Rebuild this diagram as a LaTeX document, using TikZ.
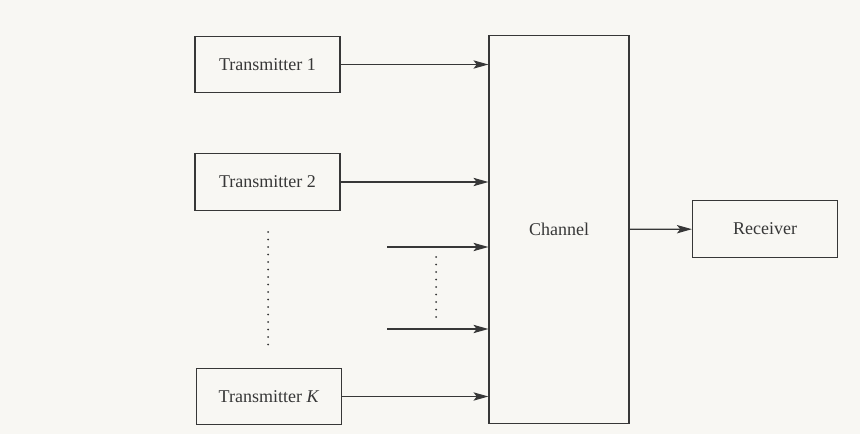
\documentclass[tikz,border=0pt]{standalone}
\usepackage{fontspec}
\setmainfont{Liberation Serif}
\usetikzlibrary{arrows,arrows.meta}
\definecolor{paper}{RGB}{248,247,243}
\definecolor{ink}{RGB}{55,55,55}
\begin{document}
\begin{tikzpicture}[
x=0.6pt, y=-0.6pt,
box/.style={draw=ink, line width=0.7pt, minimum width=87pt, minimum height=34pt, inner sep=0pt, font=\fontsize{10.8}{13}\selectfont, text=ink},
chan/.style={draw=ink, line width=0.7pt, minimum width=84pt, minimum height=233pt, inner sep=0pt, font=\fontsize{10.8}{13}\selectfont, text=ink},
arrow/.style={-{Stealth[length=9pt,width=5pt,inset=2pt]}, draw=ink, line width=0.7pt},
dots/.style={draw=ink, line width=1.2pt, line cap=round, dash pattern=on 0pt off 4.5pt} ]

\fill[paper] (0,0) rectangle (860,434);
\useasboundingbox (0,0) rectangle (860,434);

\node[box] (T1) at (267.5,64.5) {Transmitter 1};

\node[box] (T2) at (267.5,182) {Transmitter 2};

\node[box] (TK) at (269,396.5) {Transmitter \textit{K}};

\node[chan] (Ch) at (559,229.5) {Channel};

\node[box] (Rx) at (765,229) {Receiver};

\coordinate (in1) at (387,247);
\coordinate (in2) at (387,329);

\draw[arrow] (T1) -- (T1 -| Ch.west);

\draw[arrow] (T2) -- (T2 -| Ch.west);

\draw[arrow] (in1) -- (in1 -| Ch.west);

\draw[arrow] (in2) -- (in2 -| Ch.west);

\draw[arrow] (TK) -- (TK -| Ch.west);

\draw[arrow] (Ch) -- (Rx);

% dotted gaps
\coordinate (d1a) at (268,232);
\coordinate (d1b) at (268,346);
\coordinate (d2a) at (436,257);
\coordinate (d2b) at (436,319);
\draw[dots] (d1a) -- (d1b);
\draw[dots] (d2a) -- (d2b);

\end{tikzpicture}
\end{document}
